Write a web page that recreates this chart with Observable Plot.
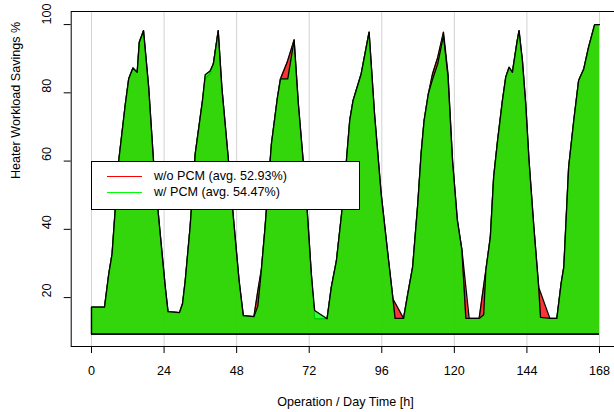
<!DOCTYPE html>
<html><head><meta charset="utf-8">
<script src="https://cdn.jsdelivr.net/npm/d3@7"></script>
<script src="https://cdn.jsdelivr.net/npm/@observablehq/plot@0.6"></script>
<style>
html,body{margin:0;padding:0;background:#fff;}
#wrap{position:relative;width:614px;height:412px;overflow:hidden;font-family:"Liberation Sans",Arial,Helvetica,sans-serif;}
#wrap svg{max-width:none !important;}
#legend{position:absolute;left:91px;top:161px;width:267px;height:47px;background:#fff;border:1px solid #000;font-size:12.6px;color:#000;}
.sw{position:absolute;left:15px;width:35px;height:0;border-top:1.6px solid;}
.lab{position:absolute;left:62px;white-space:nowrap;line-height:14px;}
</style></head><body><div id="wrap"></div>
<script>
// Hours of the week (x), shared by both series
const hours = [0,4.3,5.7,6.8,7.9,9.0,11.2,12.3,13.7,15.1,15.8,17.2,18.9,20.5,22.4,24.4,25.3,29.1,30.1,31.0,32.6,34.3,36.7,37.6,39.2,40.3,41.9,43.1,45.3,47.0,48.8,50.2,53.7,55.0,56.2,57.4,59.5,61.5,62.5,64.5,64.9,67.0,68.4,70.0,71.4,72.7,73.8,77.9,79.3,81.0,82.7,84.3,85.4,86.5,89.2,91.8,93.6,95.8,98.0,99.7,100.4,103.2,104.6,106.2,107.9,109.0,110.0,111.4,112.8,114.5,116.4,117.9,119.4,121.0,122.5,123.8,124.9,128.2,129.7,130.4,131.9,133.0,134.3,135.9,137.0,138.1,139.2,140.7,141.4,142.5,143.6,144.7,146.3,147.9,148.5,151.6,153.9,155.3,156.2,157.8,159.5,161.1,162.8,164.4,166.4,168];
// Heater workload savings % without PCM
const woPCM = [17.2,17.2,26.9,32.8,46.5,60.1,76.8,84.1,87.3,86.0,94.8,98.2,81.6,60.1,41.6,23.0,15.9,15.6,18.2,25.0,40.6,62.1,77.7,84.3,85.6,88.5,98.2,81.6,60.1,42.6,25.0,14.7,14.4,22.0,28.4,40.6,65.0,78.7,84.1,88.5,89.5,95.5,76.8,60.1,44.5,26.9,13.8,13.8,23.0,30.8,44.5,60.1,71.9,77.7,85.6,97.8,73.8,50.4,32.8,19.6,18.5,13.9,21.1,28.9,47.4,62.1,71.9,79.7,85.6,90.4,97.8,85.6,60.1,42.6,34.0,23.1,13.9,13.9,23.5,27.9,37.7,55.3,66.0,77.7,84.6,87.5,86.0,94.8,98.2,89.5,76.8,60.1,40.6,23.0,21.5,13.9,13.9,24.0,28.9,58.2,71.9,83.6,87.0,93.4,100,100];
// Heater workload savings % with PCM
const wPCM = [17.2,17.2,26.9,32.8,46.5,60.1,76.8,84.1,87.3,86.0,94.8,98.2,81.6,60.1,41.6,23.0,15.9,15.6,18.2,25.0,40.6,62.1,77.7,85.3,86.4,88.5,98.2,81.6,60.1,42.6,25.0,14.7,14.4,17.5,28.4,40.6,65.0,78.7,84.1,84.1,84.1,95.5,76.8,60.1,44.5,26.9,16.2,13.8,23.0,30.8,44.5,60.1,71.9,77.7,85.6,97.8,73.8,50.4,32.8,19.6,13.9,13.9,21.1,28.9,47.4,62.1,71.9,79.7,84.0,88.5,96.8,84.8,60.1,42.6,34.0,13.9,13.9,13.9,15.0,27.9,37.7,55.3,66.0,77.7,84.6,87.5,86.0,94.8,98.2,89.5,76.8,60.1,40.6,23.0,14.2,13.9,13.9,24.0,28.9,58.2,71.9,83.6,87.0,93.4,100,100];
const baseline = 9.3;
const xTicks = [0,24,48,72,96,120,144,168];
const yTicks = [20,40,60,80,100];
const seriesNames = ["w/o PCM (avg. 52.93%)", "w/ PCM (avg. 54.47%)"];
const lineColors = ["#ff0000", "#00ff00"];
const xTitle = "Operation / Day Time [h]";
const yTitle = "Heater Workload Savings %";

const rows = hours.map((h, i) => ({h, wo: woPCM[i], w: wPCM[i]}));
const outline = key => [{h: hours[0], v: baseline}, ...rows.map(r => ({h: r.h, v: r[key]}))];

const xDom = [-0.04 * 168, 168 * 1.04];
const yDom = [baseline - 0.04 * (100.2 - baseline), 100.2 + 0.04 * (100.2 - baseline)];

const chart = Plot.plot({
  width: 620,
  height: 412,
  marginLeft: 70.7,
  marginRight: 0.7,
  marginTop: 11,
  marginBottom: 66,
  style: {fontFamily: '"Liberation Sans", Arial, Helvetica, sans-serif', fontSize: "12.6px", color: "#000", background: "#fff"},
  x: {domain: xDom},
  y: {domain: yDom},
  marks: [
    Plot.ruleX(xTicks, {stroke: "#d3d3d3", strokeWidth: 1}),
    Plot.areaY(rows, {x: "h", y1: baseline, y2: "wo", fill: "#ff0000", fillOpacity: 0.8, curve: "linear"}),
    Plot.line(outline("wo"), {x: "h", y: "v", stroke: "#000", strokeWidth: 1.3}),
    Plot.ruleY([baseline], {x1: hours[0], x2: hours[hours.length - 1], stroke: "#000", strokeWidth: 1.3}),
    Plot.areaY(rows, {x: "h", y1: baseline, y2: "w", fill: "#00ff00", fillOpacity: 0.8, curve: "linear"}),
    Plot.line(outline("w"), {x: "h", y: "v", stroke: "#000", strokeWidth: 1.3}),
    Plot.ruleY([baseline], {x1: hours[0], x2: hours[hours.length - 1], stroke: "#000", strokeWidth: 1.5}),
    Plot.frame({stroke: "#000", strokeWidth: 1}),
    Plot.axisX({ticks: xTicks, tickSize: 7, tickPadding: 13, label: null, stroke: "#000"}),
    Plot.axisY({ticks: yTicks, tickSize: 7, tickFormat: () => "", label: null, stroke: "#000"}),
    Plot.text(yTicks, {y: d => d, text: d => String(d), frameAnchor: "left", dx: -24, rotate: -90}),
    Plot.text([xTitle], {text: d => d, frameAnchor: "bottom", dy: 59}),
    Plot.text([yTitle], {text: d => d, frameAnchor: "left", dx: -55, rotate: -90})
  ]
});
const wrap = document.getElementById("wrap");
wrap.appendChild(chart);

const legend = document.createElement("div");
legend.id = "legend";
seriesNames.forEach((name, i) => {
  const sw = document.createElement("div");
  sw.className = "sw";
  sw.style.borderTopColor = lineColors[i];
  sw.style.top = (14 + i * 16.3) + "px";
  legend.appendChild(sw);
  const lab = document.createElement("div");
  lab.className = "lab";
  lab.style.top = (7 + i * 16.3) + "px";
  lab.textContent = name;
  legend.appendChild(lab);
});
wrap.appendChild(legend);
</script>
</body></html>
